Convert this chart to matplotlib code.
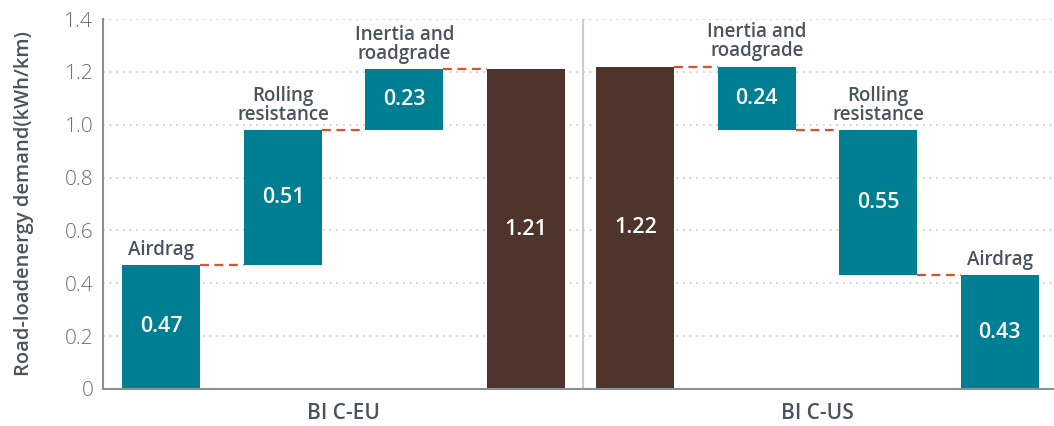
import matplotlib
matplotlib.use("Agg")
import matplotlib.pyplot as plt

plt.rcParams['font.family'] = ['Open Sans', 'DejaVu Sans']

groups = ["BI C-EU", "BI C-US"]
eu_labels = ["Airdrag", "Rolling\nresistance", "Inertia and\nroadgrade", ""]
eu_values = [0.47, 0.51, 0.23]
eu_total = 1.21
us_labels = ["", "Inertia and\nroadgrade", "Rolling\nresistance", "Airdrag"]
us_values = [0.24, 0.55, 0.43]
us_total = 1.22

yticks = [0, 0.2, 0.4, 0.6, 0.8, 1.0, 1.2, 1.4]
ytick_labels = ["0", "0.2", "0.4", "0.6", "0.8", "1.0", "1.2", "1.4"]

TEAL = "#007F93"
BROWN = "#4E342A"
DASH = "#E0502A"
TXT = "#4A545E"
GRAY = "#6E6E6E"

fig = plt.figure(figsize=(10.54, 4.26), dpi=100)
ax = fig.add_axes([103/1054, 1-389/426, 1-103/1054, (389-19)/426])

W = 0.642
US0 = 3.9  # start position of second group
eu_x = [0, 1, 2, 3]
us_x = [US0 + k for k in range(4)]

bars = []
cum = 0.0
for i, v in enumerate(eu_values):
    bars.append((eu_x[i], cum, v, TEAL, f"{v:.2f}", eu_labels[i]))
    cum += v
bars.append((eu_x[3], 0, eu_total, BROWN, f"{eu_total:.2f}", ""))
bars.append((us_x[0], 0, us_total, BROWN, f"{us_total:.2f}", ""))
top = us_total
for j, v in enumerate(us_values):
    bars.append((us_x[j + 1], top - v, v, TEAL, f"{v:.2f}", us_labels[j + 1]))
    top -= v

for x, b, h, c, vt, lab in bars:
    ax.bar(x, h, bottom=b, width=W, color=c, zorder=3)
    ax.text(x, b + h / 2, vt, ha="center", va="center", color="white",
            fontsize=15.5, fontweight="semibold", zorder=4)
    if lab:
        ax.text(x, b + h + 0.02, lab, ha="center", va="bottom", color=TXT,
                fontsize=13.5, fontweight="semibold", linespacing=0.92, zorder=4)

def conn(x0, x1, y):
    ax.plot([x0 + W/2, x1 - W/2], [y, y], color=DASH, lw=1.6,
            linestyle=(0, (4, 2.5)), zorder=4)

cum = 0.0
for i, v in enumerate(eu_values):
    cum += v
    conn(eu_x[i], eu_x[i + 1], cum if i < 2 else eu_total)
top = us_total
conn(us_x[0], us_x[1], top)
for j, v in enumerate(us_values[:-1]):
    top -= v
    conn(us_x[j + 1], us_x[j + 2], top)

ax.set_xlim(-0.481, 7.346)
ax.set_ylim(0, 1.4)
ax.set_yticks(yticks)
ax.set_yticklabels(ytick_labels)
ax.set_xticks([1.5, US0 + 1.5])
ax.set_xticklabels(groups, fontsize=15, fontweight="semibold", color=TXT)
ax.tick_params(axis="y", length=0, labelsize=15, labelcolor=GRAY, pad=7)
ax.tick_params(axis="x", length=0, pad=10)
for t in ax.get_yticklabels():
    t.set_fontweight("light")
ax.yaxis.grid(True, linestyle=(0, (1, 3)), color="#C8C8C8", lw=1.2, zorder=0)
ax.set_axisbelow(True)
for s in ["top", "right"]:
    ax.spines[s].set_visible(False)
for s in ["left", "bottom"]:
    ax.spines[s].set_color("#8A9096")
    ax.spines[s].set_linewidth(1.5)
    ax.spines[s].set_zorder(5)
ax.axvline(3.469, color="#C8CCD0", lw=1.5, zorder=2)

ax.set_ylabel("Road-loadenergy demand(kWh/km)", fontsize=14.5,
              fontweight="semibold", color=TXT, labelpad=22)

fig.savefig("out.png", dpi=100)
